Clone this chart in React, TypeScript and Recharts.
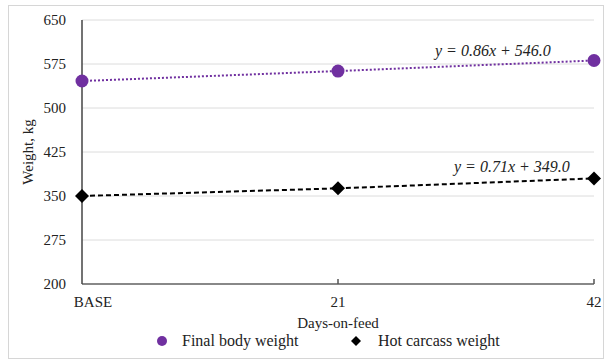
import React from "react";
import { LineChart, Line, XAxis, YAxis, CartesianGrid } from "recharts";

const categories = ["BASE", "21", "42"];
const finalBodyWeight = [546, 563, 581];
const hotCarcassWeight = [350, 363, 380];
const yTicks = [200, 275, 350, 425, 500, 575, 650];
const eqFinal = "y = 0.86x + 546.0";
const eqHot = "y = 0.71x + 349.0";
const seriesNames = ["Final body weight", "Hot carcass weight"];

const data = categories.map((c, i) => ({
  day: c,
  fbw: finalBodyWeight[i],
  hcw: hotCarcassWeight[i],
}));

const FONT = "'Liberation Serif', 'Times New Roman', serif";

const Diamond = (props: any) => {
  const { cx, cy } = props;
  if (cx == null || cy == null) return null;
  const s = 7;
  return (
    <path
      d={`M${cx},${cy - s} L${cx + s},${cy} L${cx},${cy + s} L${cx - s},${cy} Z`}
      fill="#000"
    />
  );
};

const XTick = (props: any) => {
  const { x, y, payload } = props;
  const dx = payload.value === "BASE" ? 11 : 0;
  const axisY = y - 8;
  return (
    <g>
      {payload.value !== "BASE" && (
        <line x1={x} x2={x} y1={axisY - 5} y2={axisY} stroke="#555" strokeWidth={1.5} />
      )}
      <text
        x={x + dx}
        y={y + 15}
        textAnchor="middle"
        fontFamily={FONT}
        fontSize={15}
        fill="#222"
      >
        {payload.value}
      </text>
    </g>
  );
};

const YTick = (props: any) => {
  const { x, y, payload } = props;
  return (
    <text
      x={x - 8}
      y={y + 5}
      textAnchor="end"
      fontFamily={FONT}
      fontSize={15}
      fill="#222"
    >
      {payload.value}
    </text>
  );
};

const txt: React.CSSProperties = {
  position: "absolute",
  color: "#222",
  whiteSpace: "nowrap",
  fontFamily: FONT,
  lineHeight: "18px",
};

export default function App() {
  return (
    <div
      style={{
        position: "absolute",
        left: 0,
        top: 0,
        width: 611,
        height: 362,
        background: "#fff",
        fontFamily: FONT,
      }}
    >
      <div
        style={{
          position: "absolute",
          left: 8,
          top: 5,
          width: 596,
          height: 354,
          border: "1px solid #d6d6d6",
          boxSizing: "border-box",
        }}
      />
      <div style={{ position: "absolute", left: 0, top: 0 }}>
        <LineChart
          width={611}
          height={362}
          data={data}
          margin={{ top: 20, right: 17, left: 22, bottom: 58 }}
        >
          <CartesianGrid vertical={false} stroke="#dcdcdc" strokeWidth={1} />
          <XAxis
            dataKey="day"
            scale="point"
            padding={{ left: 0, right: 0 }}
            axisLine={{ stroke: "#666", strokeWidth: 1.5 }}
            tickLine={false}
            tick={<XTick />}
            height={20}
            interval={0}
          />
          <YAxis
            domain={[200, 650]}
            ticks={yTicks}
            width={60}
            axisLine={{ stroke: "#444", strokeWidth: 1.5 }}
            tickLine={false}
            tick={<YTick />}
            interval={0}
          />
          <Line
            dataKey="fbw"
            name={seriesNames[0]}
            stroke="#7030A0"
            strokeWidth={2}
            strokeDasharray="2 2"
            dot={{ r: 6.5, fill: "#7030A0", stroke: "#7030A0", strokeWidth: 0 }}
            isAnimationActive={false}
          />
          <Line
            dataKey="hcw"
            name={seriesNames[1]}
            stroke="#000"
            strokeWidth={2}
            strokeDasharray="5 3"
            dot={<Diamond />}
            isAnimationActive={false}
          />
        </LineChart>
      </div>
      <div style={{ ...txt, left: 435, top: 42, fontSize: 16, fontStyle: "italic" }}>
        {eqFinal}
      </div>
      <div style={{ ...txt, left: 454, top: 158, fontSize: 16, fontStyle: "italic" }}>
        {eqHot}
      </div>
      <div
        style={{
          ...txt,
          left: 28,
          top: 152,
          transform: "translate(-50%, -50%) rotate(-90deg)",
          fontSize: 15,
        }}
      >
        Weight, kg
      </div>
      <div style={{ ...txt, left: 338, top: 314, transform: "translateX(-50%)", fontSize: 15 }}>
        Days-on-feed
      </div>
      <svg
        width={12}
        height={12}
        style={{ position: "absolute", left: 156, top: 335 }}
      >
        <circle cx={6} cy={6} r={5} fill="#7030A0" />
      </svg>
      <div style={{ ...txt, left: 182, top: 332, fontSize: 16 }}>{seriesNames[0]}</div>
      <svg
        width={12}
        height={12}
        style={{ position: "absolute", left: 350, top: 335 }}
      >
        <path d="M6,1 L11,6 L6,11 L1,6 Z" fill="#000" />
      </svg>
      <div style={{ ...txt, left: 378, top: 332, fontSize: 16 }}>{seriesNames[1]}</div>
    </div>
  );
}
